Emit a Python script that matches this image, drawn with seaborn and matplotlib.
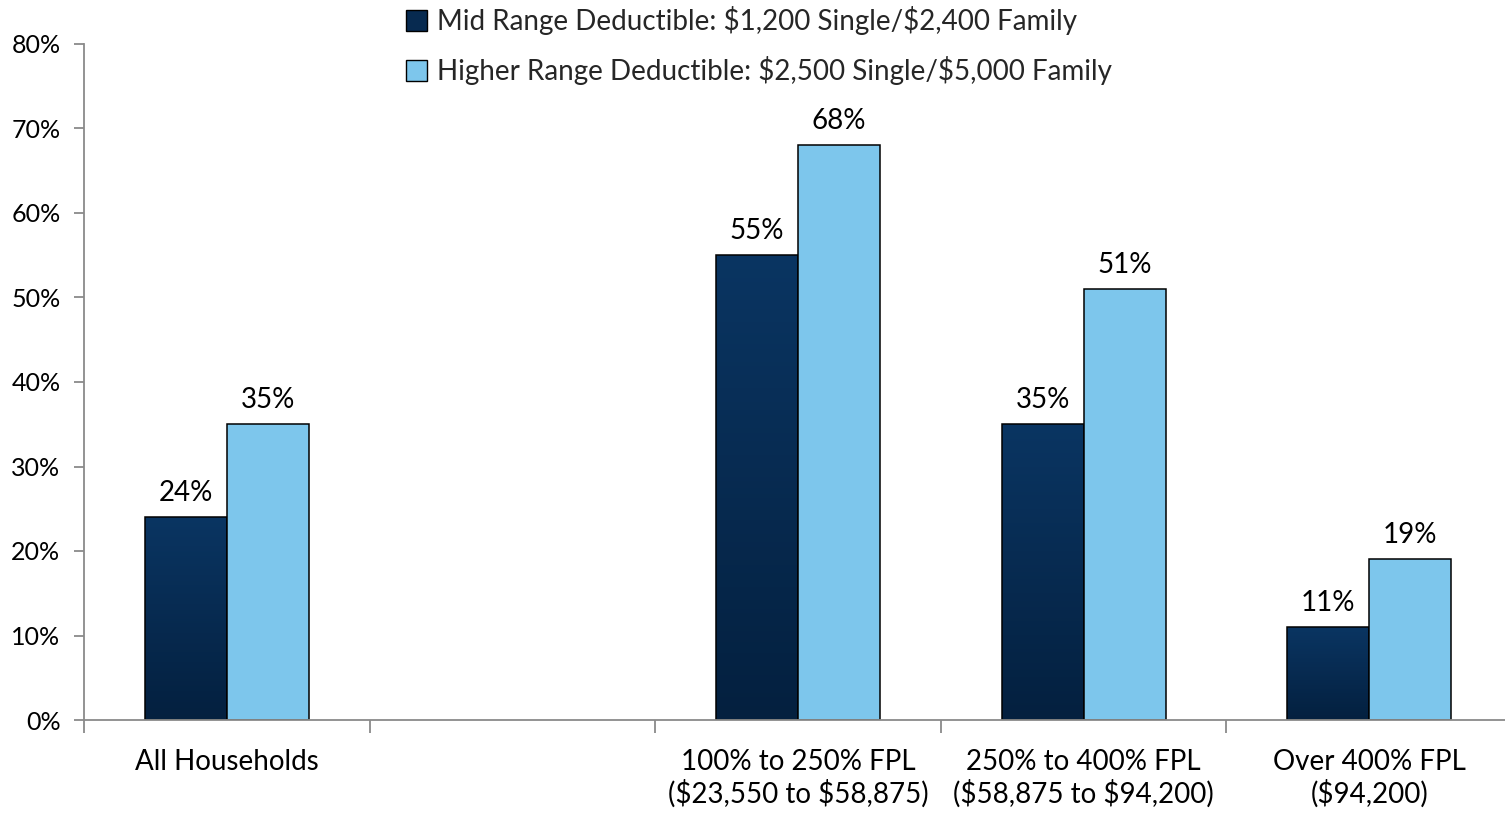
import numpy as np
import pandas as pd
import matplotlib
matplotlib.use("Agg")
import matplotlib.pyplot as plt
import seaborn as sns
from matplotlib.patches import Patch
from matplotlib.colors import LinearSegmentedColormap
from matplotlib.ticker import FixedLocator, FuncFormatter

# --- data -------------------------------------------------------------
categories = [
    "All Households",
    "100% to 250% FPL\n($23,550 to $58,875)",
    "250% to 400% FPL\n($58,875 to $94,200)",
    "Over 400% FPL\n($94,200)",
]
# an empty slot separates the overall figure from the income groups
slots = [categories[0], " ", categories[1], categories[2], categories[3]]
series = [
    "Mid Range Deductible: $1,200 Single/$2,400 Family",
    "Higher Range Deductible: $2,500 Single/$5,000 Family",
]
mid_values = [24, 55, 35, 11]
higher_values = [35, 68, 51, 19]
y_ticks = [0, 10, 20, 30, 40, 50, 60, 70, 80]

df = pd.DataFrame({
    "category": categories * 2,
    "series": [series[0]] * len(categories) + [series[1]] * len(categories),
    "value": mid_values + higher_values,
})

# --- style ------------------------------------------------------------
DARK = "#072a50"
LIGHT = "#7dc6ec"
AXIS_GRAY = "#8a8a8a"
FS = 20

sns.set_theme(style="white")
plt.rcParams["font.family"] = ["Lato", "DejaVu Sans"]
plt.rcParams["text.parse_math"] = False

fig = plt.figure(figsize=(15.05, 8.14), dpi=100)
# the last slot runs slightly past the right edge of the canvas
ax = fig.add_axes([84 / 1505, 94 / 814, 1428 / 1505, 676 / 814])

sns.barplot(
    data=df, x="category", y="value", hue="series",
    order=slots, hue_order=series, palette=[DARK, LIGHT],
    saturation=1, width=0.574, errorbar=None,
    edgecolor="black", linewidth=1.1, legend=False, ax=ax,
)

# vertical shading on the darker bars
grad_cmap = LinearSegmentedColormap.from_list("navy", ["#04203f", "#0a3562"])
grad = np.linspace(0, 1, 256).reshape(-1, 1)
for bar in ax.containers[0]:
    x0, y0 = bar.get_xy()
    w, h = bar.get_width(), bar.get_height()
    if not np.isfinite(h) or h == 0:
        continue
    im = ax.imshow(grad, extent=[x0, x0 + w, y0, y0 + h], origin="lower",
                   aspect="auto", cmap=grad_cmap, zorder=bar.get_zorder() - 0.05)
    im.set_clip_path(bar)
    bar.set_facecolor("none")

# value labels
for cont in ax.containers:
    ax.bar_label(cont, labels=[f"{v:.0f}%" if np.isfinite(v) else "" for v in cont.datavalues],
                 padding=8, fontsize=FS, color="black")

# --- axes -------------------------------------------------------------
ax.set_xlim(-0.5, len(slots) - 0.5)
ax.set_ylim(0, 80)
ax.yaxis.set_major_locator(FixedLocator(y_ticks))
ax.yaxis.set_major_formatter(FuncFormatter(lambda v, _: f"{v:.0f}%"))
ax.set_xlabel("")
ax.set_ylabel("")

ax.xaxis.set_minor_locator(FixedLocator(np.arange(-0.5, len(slots), 1.0)))
ax.tick_params(axis="x", which="major", length=0, pad=21, labelsize=FS, labelcolor="black")
ax.tick_params(axis="x", which="minor", length=9, width=1.3, color=AXIS_GRAY, direction="out")
ax.tick_params(axis="y", which="major", length=7, width=1.3, color=AXIS_GRAY,
               direction="out", pad=10, labelsize=FS - 2, labelcolor="black")
ax.tick_params(axis="x", bottom=True, which="both")
ax.tick_params(axis="y", left=True)

for side in ["top", "right"]:
    ax.spines[side].set_visible(False)
for side in ["left", "bottom"]:
    ax.spines[side].set_color(AXIS_GRAY)
    ax.spines[side].set_linewidth(1.3)

# --- legend -----------------------------------------------------------
handles = [
    Patch(facecolor=DARK, edgecolor="black", linewidth=1.0),
    Patch(facecolor=LIGHT, edgecolor="black", linewidth=1.0),
]
fig.legend(handles, series, loc="upper left", bbox_to_anchor=(402 / 1505, 1.0 - 2 / 814),
           bbox_transform=fig.transFigure, frameon=False, fontsize=FS,
           handlelength=0.75, handleheight=0.75, handletextpad=0.35,
           labelspacing=0.76, borderaxespad=0.0, borderpad=0.15)

fig.savefig("out.png", dpi=100)
